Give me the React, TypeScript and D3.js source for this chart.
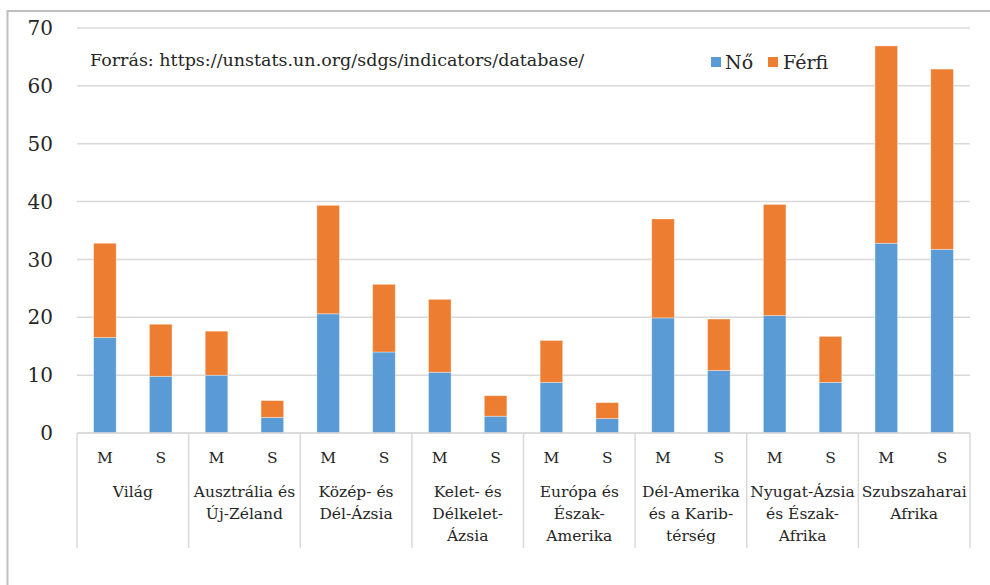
import React from 'react';
import * as d3 from 'd3';

// Régiók (két sáv mindegyikben: M, S)
const regions: string[][] = [
  ['Világ'],
  ['Ausztrália és', 'Új-Zéland'],
  ['Közép- és', 'Dél-Ázsia'],
  ['Kelet- és', 'Délkelet-', 'Ázsia'],
  ['Európa és', 'Észak-', 'Amerika'],
  ['Dél-Amerika', 'és a Karib-', 'térség'],
  ['Nyugat-Ázsia', 'és Észak-', 'Afrika'],
  ['Szubszaharai', 'Afrika'],
];
const subLabels = ['M', 'S'];

const noValues = [16.5, 9.8, 10.0, 2.7, 20.6, 14.0, 10.5, 2.9, 8.75, 2.5, 19.9, 10.8, 20.3, 8.75, 32.8, 31.75];
const ferfiValues = [16.3, 9.0, 7.6, 2.9, 18.75, 11.7, 12.6, 3.55, 7.25, 2.75, 17.1, 8.9, 19.2, 7.95, 34.1, 31.15];

const yTicks = [0, 10, 20, 30, 40, 50, 60, 70];

const COLORS = {
  no: '#5b9bd5',
  ferfi: '#ed7d31',
  grid: '#d9d9d9',
  border: '#bfbfbf',
  text: '#262626',
};

const FONT = '"DejaVu Serif", serif';

export default function App() {
  const width = 990;
  const height = 585;
  const margin = { left: 77, right: 20, top: 28, bottom: 152 };

  const keys = d3.range(noValues.length).map(String);
  const x = d3.scaleBand<string>()
    .domain(keys)
    .range([margin.left, width - margin.right])
    .paddingInner(0.595)
    .paddingOuter(0.2975);
  const y = d3.scaleLinear().domain([0, 70]).range([height - margin.bottom, margin.top]);

  const rows = noValues.map((n, i) => ({ key: keys[i], no: n, ferfi: ferfiValues[i] }));
  const stacked = d3.stack<any>().keys(['no', 'ferfi'])(rows);

  const groupW = (width - margin.right - margin.left) / regions.length;
  const y0 = y(0);
  const axisBottom = y0 + 115;

  return (
    <div style={{ position: 'absolute', left: 0, top: 0 }}>
      <svg width={width} height={height} style={{ display: 'block', background: '#fff' }}>
        <rect x={7.5} y={11} width={1000} height={600} fill="#fff" stroke={COLORS.border} strokeWidth={2} />

        {/* gridlines */}
        {yTicks.map(t => (
          <line key={t} x1={margin.left} x2={width - margin.right} y1={y(t)} y2={y(t)}
            stroke={COLORS.grid} strokeWidth={1.5} />
        ))}
        {yTicks.map(t => (
          <text key={'l' + t} x={53} y={y(t)} dy="0.36em" textAnchor="end"
            fontFamily={FONT} fontSize={20} fill={COLORS.text}>{t}</text>
        ))}

        {/* bars */}
        {stacked.map(layer => (
          <g key={layer.key} fill={layer.key === 'no' ? COLORS.no : COLORS.ferfi}>
            {layer.map((d, i) => (
              <rect key={i} x={x(keys[i])} width={x.bandwidth()}
                y={y(d[1])} height={y(d[0]) - y(d[1])}
                stroke="#fff" strokeOpacity={0.45} strokeWidth={0.8} />
            ))}
          </g>
        ))}

        {/* category axis */}
        <line x1={margin.left} x2={width - margin.right} y1={y0} y2={y0} stroke={COLORS.grid} strokeWidth={1.5} />
        {d3.range(regions.length + 1).map(i => (
          <line key={'d' + i} x1={margin.left + i * groupW} x2={margin.left + i * groupW}
            y1={y0} y2={axisBottom} stroke={COLORS.grid} strokeWidth={1.5} />
        ))}
        {keys.map((k, i) => (
          <text key={'s' + k} x={x(k)! + x.bandwidth() / 2} y={463} textAnchor="middle"
            fontFamily={FONT} fontSize={15.5} fill={COLORS.text}>{subLabels[i % 2]}</text>
        ))}
        {regions.map((lines, gi) => (
          <text key={'r' + gi} textAnchor="middle" fontFamily={FONT} fontSize={15.5} fill={COLORS.text}>
            {lines.map((ln, li) => (
              <tspan key={li} x={margin.left + (gi + 0.5) * groupW} y={497 + li * 22}>{ln}</tspan>
            ))}
          </text>
        ))}

        {/* source */}
        <text x={90} y={66} fontFamily={FONT} fontSize={17.5} fill={COLORS.text}>
          Forrás: https://unstats.un.org/sdgs/indicators/database/
        </text>

        {/* legend */}
        <rect x={711} y={57} width={10} height={10} fill={COLORS.no} />
        <text x={725} y={69} fontFamily={FONT} fontSize={19} fill={COLORS.text}>Nő</text>
        <rect x={768} y={57} width={10} height={10} fill={COLORS.ferfi} />
        <text x={783} y={69} fontFamily={FONT} fontSize={19} fill={COLORS.text}>Férfi</text>
      </svg>
    </div>
  );
}
